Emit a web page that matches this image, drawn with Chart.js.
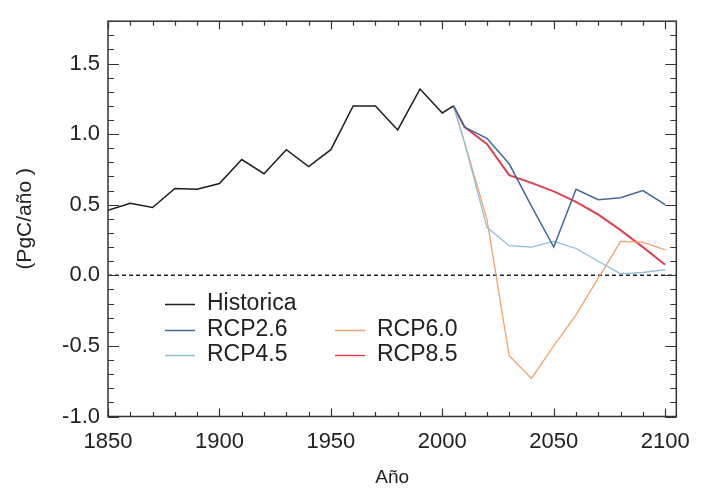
<!DOCTYPE html>
<html><head><meta charset="utf-8">
<script src="https://cdn.jsdelivr.net/npm/chart.js@4/dist/chart.umd.min.js"></script>
<style>html,body{margin:0;padding:0;background:#fff;} canvas{display:block;}</style>
</head><body>
<canvas id="c" width="702" height="494"></canvas>
<script>
// ---- data ----
const histYears  = [1850,1860,1870,1880,1890,1900,1910,1920,1930,1940,1950,1960,1970,1980,1990,2000,2005];
const histValues = [0.46,0.51,0.48,0.615,0.61,0.65,0.82,0.72,0.89,0.77,0.89,1.20,1.20,1.03,1.32,1.15,1.20];
const rcpYears   = [2005,2010,2020,2030,2040,2050,2060,2070,2080,2090,2100];
const rcp26 = [1.20,1.05,0.97,0.79,0.49,0.20,0.61,0.535,0.55,0.60,0.50];
const rcp45 = [1.20,0.94,0.34,0.21,0.20,0.24,0.19,0.10,0.01,0.02,0.04];
const rcp60 = [1.20,0.94,0.40,-0.57,-0.73,-0.50,-0.28,-0.02,0.24,0.235,0.18];
const rcp85 = [1.20,1.05,0.93,0.71,0.655,0.595,0.52,0.43,0.32,0.20,0.075];
const seriesNames = ['Historica','RCP2.6','RCP4.5','RCP6.0','RCP8.5'];
const xTickValues = [1850,1900,1950,2000,2050,2100];
const yTickValues = [-1.0,-0.5,0.0,0.5,1.0,1.5];

const FONT = '"Liberation Sans", Arial, Helvetica, sans-serif';
const INK = '#222';
const colors = ['#1e1e1e','#41699a','#8cc0d8','#f2a36a','#e2404f'];
const widths = [1.5,1.5,1.3,1.3,2];

function pts(xs, ys){ return xs.map((x,i)=>({x:x, y:ys[i]})); }
const seriesData = [pts(histYears,histValues),pts(rcpYears,rcp26),pts(rcpYears,rcp45),pts(rcpYears,rcp60),pts(rcpYears,rcp85)];

const framePlugin = {
  id:'frame',
  beforeDatasetsDraw(chart){
    const {ctx, chartArea:a, scales:{y}} = chart;
    const py = y.getPixelForValue(0);
    ctx.save();
    ctx.strokeStyle = INK; ctx.lineWidth = 1.4; ctx.setLineDash([4,3]);
    ctx.beginPath(); ctx.moveTo(a.left, py); ctx.lineTo(a.right, py); ctx.stroke();
    ctx.restore();
  },
  afterDraw(chart){
    const {ctx, chartArea:a, scales:{x,y}} = chart;
    ctx.save();
    ctx.strokeStyle = '#333'; ctx.lineWidth = 1.5;
    ctx.strokeRect(a.left, a.top, a.right-a.left, a.bottom-a.top);
    ctx.lineWidth = 1.2;
    ctx.beginPath();
    for (let v=1850; v<=2100; v+=10){
      const px = Math.round(x.getPixelForValue(v))+0.5;
      const L = (v%50===0)?8:4.5;
      ctx.moveTo(px,a.bottom); ctx.lineTo(px,a.bottom-L);
      ctx.moveTo(px,a.top); ctx.lineTo(px,a.top+L);
    }
    for (let k=-10; k<=18; k++){
      const py = Math.round(y.getPixelForValue(k/10))+0.5;
      const L = (k%5===0)?11:6;
      ctx.moveTo(a.left,py); ctx.lineTo(a.left+L,py);
      ctx.moveTo(a.right,py); ctx.lineTo(a.right-L,py);
    }
    ctx.stroke();
    // legend
    const entries = [
      {i:0, x:165, y:304},{i:1, x:165, y:330},{i:2, x:165, y:355},
      {i:3, x:335, y:330},{i:4, x:335, y:355}
    ];
    ctx.font = '23px ' + FONT; ctx.textBaseline = 'middle'; ctx.fillStyle = INK;
    entries.forEach(e=>{
      ctx.strokeStyle = colors[e.i]; ctx.lineWidth = 1.5;
      ctx.beginPath(); ctx.moveTo(e.x, e.y+0.5); ctx.lineTo(e.x+30, e.y+0.5); ctx.stroke();
      ctx.fillText(seriesNames[e.i], e.x+42, e.y);
    });
    ctx.restore();
  }
};

new Chart(document.getElementById('c'), {
  type:'line',
  data:{ datasets: seriesData.map((d,i)=>({
    label: seriesNames[i], data:d, borderColor:colors[i], borderWidth:widths[i],
    pointRadius:0, tension:0, fill:false
  }))},
  options:{
    responsive:false, animation:false, devicePixelRatio:1,
    layout:{padding:{left:0,right:18,top:9.5,bottom:0}},
    plugins:{legend:{display:false}, tooltip:{enabled:false}},
    scales:{
      x:{type:'linear', min:1850, max:2105,
        grid:{display:false, drawTicks:false}, border:{display:false},
        afterBuildTicks(s){ s.ticks = xTickValues.map(v=>({value:v})); },
        ticks:{autoSkip:false, maxRotation:0, padding:12, color:INK, font:{family:FONT,size:22},
          callback:v=>String(v)},
        title:{display:true, text:'Año', color:INK, font:{family:FONT,size:19}, padding:{top:0,bottom:5}},
        afterFit(s){ s.height = 494-416.5; }
      },
      y:{min:-1.0, max:1.8,
        grid:{display:false, drawTicks:false}, border:{display:false},
        afterBuildTicks(s){ s.ticks = yTickValues.map(v=>({value:v})); },
        ticks:{padding:8, color:INK, font:{family:FONT,size:22}, callback:v=>Number(v).toFixed(1)},
        title:{display:true, text:'(PgC/año )', color:INK, font:{family:FONT,size:21}, padding:{top:13,bottom:0}},
        afterFit(s){ s.width = 108; }
      }
    }
  },
  plugins:[framePlugin]
});
</script>
</body></html>
